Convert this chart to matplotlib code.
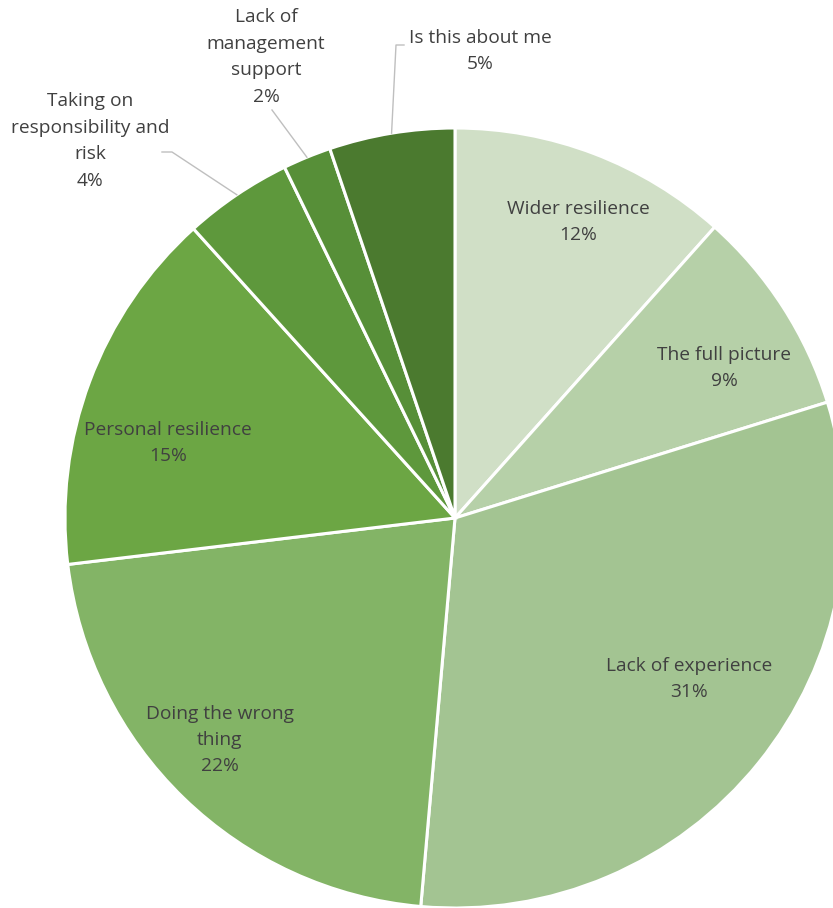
import numpy as np
import matplotlib
matplotlib.use("Agg")
import matplotlib.pyplot as plt

categories = ["Wider resilience", "The full picture", "Lack of experience",
              "Doing the wrong thing", "Personal resilience",
              "Taking on responsibility and risk", "Lack of management support",
              "Is this about me"]
values = [11.6, 8.6, 31.2, 21.7, 15.2, 4.5, 2.0, 5.2]
label_text = ["Wider resilience\n12%", "The full picture\n9%", "Lack of experience\n31%",
              "Doing the wrong\nthing\n22%", "Personal resilience\n15%",
              "Taking on\nresponsibility and\nrisk\n4%", "Lack of\nmanagement\nsupport\n2%",
              "Is this about me\n5%"]
colors = ["#d0dfc6", "#b6d0a8", "#a3c492", "#83b466", "#6ca644", "#5e983c", "#578f38", "#4b7a2f"]

W, H = 833, 908
fig = plt.figure(figsize=(W / 100, H / 100), dpi=100)
ax = fig.add_axes([0, 0, 1, 1])

cx, cy, R = 455, H - 518, 390
wedges, _ = ax.pie(values, colors=colors, startangle=90, counterclock=False,
                   center=(cx, cy), radius=R, frame=True,
                   wedgeprops=dict(edgecolor="white", linewidth=2.2))
ax.set_xlim(0, W)
ax.set_ylim(0, H)
ax.set_aspect("equal")
ax.axis("off")

font = ["Open Sans", "DejaVu Sans"]
tc = "#404040"
fs = 13.8

# label positions (pixel coords, from top)
label_pos = {
    0: (578, 222),
    1: (724, 368),
    2: (689, 679),
    3: (220, 740),
    4: (168, 443),
    5: (90, 141),
    6: (266, 57),
    7: (480, 51),
}
for i, txt in enumerate(label_text):
    x, y = label_pos[i]
    ax.text(x, H - y, txt, ha="center", va="center", fontsize=fs, color=tc,
            family=font, linespacing=1.6)

# leader lines for the small outer slices
def edge_point(i):
    w = wedges[i]
    mid = np.deg2rad((w.theta1 + w.theta2) / 2)
    return cx + R * np.cos(mid), cy + R * np.sin(mid)

lc = "#bfbfbf"
ex, ey = edge_point(5)
ax.plot([162, 172, ex], [H - 152, H - 152, ey], color=lc, lw=1)
ex, ey = edge_point(6)
ax.plot([272, ex], [H - 110, ey], color=lc, lw=1)
ex, ey = edge_point(7)
ax.plot([404, 396, ex], [H - 45, H - 45, ey], color=lc, lw=1)

fig.savefig("out.png", dpi=100, facecolor="white")
